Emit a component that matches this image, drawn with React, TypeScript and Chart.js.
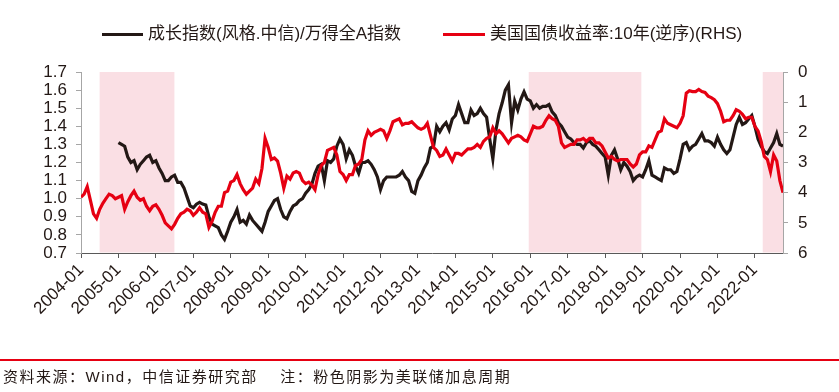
import React, { useEffect, useRef } from 'react';
import { Chart, registerables } from 'chart.js';

Chart.register(...registerables);

// ---------- data ----------
const FIRST_MONTH = '2004-01';
const LAST_MONTH = '2022-10';
const xTickYears = [2004, 2005, 2006, 2007, 2008, 2009, 2010, 2011, 2012, 2013, 2014, 2015, 2016, 2017, 2018, 2019, 2020, 2021, 2022];
const leftTicks = [0.7, 0.8, 0.9, 1.0, 1.1, 1.2, 1.3, 1.4, 1.5, 1.6, 1.7];
const rightTicks = [0, 1, 2, 3, 4, 5, 6];

const growthLabel = '成长指数(风格.中信)/万得全A指数';
const yieldLabel = '美国国债收益率:10年(逆序)(RHS)';
const sourceNote = '资料来源：Wind，中信证券研究部    注：粉色阴影为美联储加息周期';

// US 10Y treasury yield (%), monthly from 2004-01
const ust10y = [
  4.15, 4.05, 3.8, 4.25, 4.7, 4.85, 4.55, 4.35, 4.2, 4.05, 4.1, 4.2,
  4.15, 4.1, 4.55, 4.3, 4.1, 3.95, 4.15, 4.25, 4.2, 4.45, 4.6, 4.45,
  4.4, 4.55, 4.75, 5.0, 5.1, 5.2, 5.05, 4.85, 4.7, 4.65, 4.55, 4.6,
  4.75, 4.65, 4.5, 4.65, 4.7, 5.15, 4.95, 4.65, 4.45, 4.45, 4.0, 3.95,
  3.65, 3.6, 3.4, 3.7, 3.9, 4.05, 3.95, 3.85, 3.55, 3.7, 3.2, 2.2,
  2.5, 2.9, 2.85, 2.95, 3.35, 3.85, 3.45, 3.55, 3.35, 3.3, 3.35, 3.6,
  3.7, 3.65, 3.75, 3.9, 3.4, 3.1, 3.0, 2.6, 2.55, 2.5, 2.75, 3.3,
  3.4, 3.6, 3.4, 3.4, 3.1, 3.05, 2.9, 2.25, 1.95, 2.1, 2.0, 1.95,
  1.9, 1.95, 2.2, 1.95, 1.65, 1.6, 1.55, 1.75, 1.7, 1.7, 1.65, 1.75,
  1.85, 1.9, 1.85, 1.7, 2.1, 2.5, 2.6, 2.8, 2.75, 2.55, 2.75, 2.95,
  2.7, 2.7, 2.75, 2.65, 2.55, 2.55, 2.5, 2.4, 2.5, 2.3, 2.2, 2.15,
  1.85, 2.05, 1.95, 2.05, 2.2, 2.35, 2.2, 2.15, 2.1, 2.15, 2.25, 2.3,
  2.05, 1.8, 1.85, 1.85, 1.8, 1.6, 1.45, 1.55, 1.6, 1.8, 2.35, 2.5,
  2.45, 2.4, 2.4, 2.25, 2.25, 2.2, 2.3, 2.2, 2.2, 2.35, 2.35, 2.45,
  2.65, 2.85, 2.8, 2.9, 2.95, 2.9, 2.9, 2.9, 3.05, 3.15, 3.05, 2.75,
  2.65, 2.65, 2.45, 2.5, 2.25, 2.0, 1.95, 1.55, 1.7, 1.75, 1.8, 1.85,
  1.7, 1.45, 0.7, 0.62, 0.65, 0.65, 0.58, 0.65, 0.68, 0.8, 0.85, 0.92,
  1.05, 1.3, 1.65, 1.6, 1.6, 1.45, 1.25, 1.3, 1.4, 1.55, 1.5, 1.5,
  1.8, 1.95, 2.3, 2.8, 2.9, 3.3, 2.75, 2.95, 3.6, 4.0,
];

// Growth style index / Wind All A ratio, monthly from 2005-01
const GROWTH_FIRST_MONTH = '2005-01';
const growthRatio = [
  1.31, 1.30, 1.29, 1.23, 1.20, 1.21, 1.16, 1.19, 1.21, 1.23, 1.24, 1.20,
  1.21, 1.17, 1.14, 1.10, 1.10, 1.12, 1.13, 1.09, 1.09, 1.06, 1.01, 0.96,
  0.95, 0.97, 0.98, 0.97, 0.965, 0.90, 0.86, 0.85, 0.84, 0.80, 0.775, 0.82,
  0.87, 0.90, 0.94, 0.87, 0.88, 0.86, 0.91, 0.88, 0.86, 0.84, 0.82, 0.87,
  0.93, 0.96, 0.99, 1.00, 0.94, 0.90, 0.89, 0.93, 0.96, 0.97, 0.99, 1.00,
  1.03, 1.05, 1.08, 1.14, 1.18, 1.19, 1.10, 1.21, 1.20, 1.22, 1.29, 1.33,
  1.30, 1.22, 1.27, 1.24, 1.18, 1.14, 1.20, 1.20, 1.21, 1.19, 1.16, 1.12,
  1.05, 1.10, 1.12, 1.12, 1.12, 1.12, 1.13, 1.15, 1.12, 1.10, 1.04, 1.03,
  1.10, 1.13, 1.17, 1.20, 1.28, 1.29, 1.40, 1.37, 1.40, 1.42, 1.38, 1.44,
  1.46, 1.52, 1.47, 1.42, 1.42, 1.49, 1.46, 1.47, 1.50, 1.47, 1.45, 1.33,
  1.22, 1.38, 1.47, 1.53, 1.60, 1.63, 1.42, 1.54, 1.49, 1.55, 1.59, 1.55,
  1.54, 1.50, 1.52, 1.50, 1.51, 1.51, 1.52, 1.48, 1.46, 1.42, 1.40, 1.37,
  1.34, 1.33, 1.31, 1.30, 1.30, 1.28, 1.31, 1.32, 1.30, 1.29, 1.27, 1.25,
  1.23, 1.13, 1.24, 1.27, 1.22, 1.16, 1.20, 1.18, 1.15, 1.10, 1.12, 1.13,
  1.12, 1.16, 1.21, 1.13, 1.12, 1.11, 1.10, 1.17, 1.16, 1.16, 1.14, 1.15,
  1.22, 1.30, 1.31, 1.27, 1.29, 1.30, 1.33, 1.36, 1.32, 1.32, 1.31, 1.29,
  1.34, 1.30, 1.27, 1.25, 1.27, 1.34, 1.41, 1.45, 1.41, 1.42, 1.44, 1.46,
  1.40, 1.33, 1.29, 1.26, 1.25, 1.28, 1.31, 1.36, 1.30, 1.29,
];

// Fed hiking cycles (pink shading)
const hikeStarts = ['2004-06-30', '2015-12-16', '2022-03-16'];
const hikeEnds = ['2006-06-29', '2018-12-19', '2022-10-01'];

// ---------- styles ----------
const BLACK = '#231815';
const RED = '#E60012';
const PINK = '#FADFE4';
const FONT = '"Liberation Sans", Arial, "Noto Sans CJK SC", sans-serif';

function monthIndex(s: string): number {
  const [y, m, d] = s.split('-').map(Number);
  const [y0, m0] = FIRST_MONTH.split('-').map(Number);
  const base = (y - y0) * 12 + (m - m0);
  return d ? base + (d - 1) / 30 : base;
}

const shadePlugin = {
  id: 'hikeShade',
  beforeDatasetsDraw(chart: any) {
    const { ctx, chartArea, scales } = chart;
    const x = scales.x;
    ctx.save();
    ctx.fillStyle = PINK;
    hikeStarts.forEach((s, i) => {
      const x0 = x.getPixelForValue(monthIndex(s));
      const x1 = Math.min(x.getPixelForValue(monthIndex(hikeEnds[i])), chartArea.right);
      ctx.fillRect(x0, chartArea.top, x1 - x0, chartArea.bottom - chartArea.top - 0.5);
    });
    ctx.restore();
  },
};

export default function App() {
  const ref = useRef<HTMLCanvasElement>(null);

  useEffect(() => {
    if (!ref.current) return;
    const growthOffset = monthIndex(GROWTH_FIRST_MONTH);
    const tickFont = { family: FONT, size: 17 };
    const chart = new Chart(ref.current, {
      type: 'line',
      data: {
        datasets: [
          {
            label: yieldLabel,
            data: ust10y.map((v, i) => ({ x: i, y: v })),
            yAxisID: 'y1',
            borderColor: RED,
            borderWidth: 3.2,
            pointRadius: 0,
            tension: 0,
            order: 0,
          },
          {
            label: growthLabel,
            data: growthRatio.map((v, i) => ({ x: i + growthOffset, y: v })),
            yAxisID: 'y',
            borderColor: BLACK,
            borderWidth: 3.2,
            pointRadius: 0,
            tension: 0,
            order: 1,
          },
        ],
      },
      options: {
        responsive: false,
        animation: false,
        devicePixelRatio: 1,
        layout: { padding: { top: 72, left: 0, right: 0, bottom: 0 } },
        plugins: { legend: { display: false }, tooltip: { enabled: false } },
        scales: {
          x: {
            type: 'linear',
            min: 0,
            max: monthIndex(LAST_MONTH),
            afterFit: (s: any) => { s.height = 139; },
            ticks: {
              stepSize: 12,
              includeBounds: false,
              autoSkip: false,
              minRotation: 45,
              maxRotation: 45,
              padding: 2,
              color: BLACK,
              font: tickFont,
              callback: (v: any) => {
                const yr = xTickYears[Math.round(Number(v) / 12)];
                return yr !== undefined ? `${yr}-01` : null;
              },
            },
            grid: { drawOnChartArea: false, tickLength: 5, color: '#595959' },
            border: { color: '#595959', width: 1 },
          },
          y: {
            position: 'left',
            min: leftTicks[0],
            max: leftTicks[leftTicks.length - 1],
            afterFit: (s: any) => { s.width = 81; },
            afterBuildTicks: (s: any) => { s.ticks = leftTicks.map((v) => ({ value: v })); },
            ticks: {
              autoSkip: false,
              padding: 9,
              color: BLACK,
              font: tickFont,
              callback: (v: any) => Number(v).toFixed(1),
            },
            grid: { drawOnChartArea: false, tickLength: 5, color: '#A6A6A6' },
            border: { color: '#A6A6A6', width: 1 },
          },
          y1: {
            position: 'right',
            reverse: true,
            min: rightTicks[0],
            max: rightTicks[rightTicks.length - 1],
            afterFit: (s: any) => { s.width = 56; },
            afterBuildTicks: (s: any) => { s.ticks = rightTicks.map((v) => ({ value: v })); },
            ticks: {
              autoSkip: false,
              padding: 10,
              color: BLACK,
              font: tickFont,
              callback: (v: any) => String(v),
            },
            grid: { drawOnChartArea: false, tickLength: 5, color: '#A6A6A6' },
            border: { color: '#A6A6A6', width: 1 },
          },
        },
      },
      plugins: [shadePlugin],
    } as any);
    return () => chart.destroy();
  }, []);

  const legendText: React.CSSProperties = {
    position: 'absolute',
    top: 24,
    height: 20,
    lineHeight: '20px',
    fontSize: 17,
    fontFamily: FONT,
    color: BLACK,
    whiteSpace: 'nowrap',
  };

  return (
    <div style={{ position: 'absolute', left: 0, top: 0, width: 839, height: 392, background: '#fff', overflow: 'hidden' }}>
      <canvas ref={ref} width={839} height={392} style={{ position: 'absolute', left: 0, top: 0, width: 839, height: 392 }} />
      <div style={{ position: 'absolute', left: 102, top: 32.5, width: 41, height: 3, background: BLACK }} />
      <div style={{ ...legendText, left: 148 }}>{growthLabel}</div>
      <div style={{ position: 'absolute', left: 443, top: 32.5, width: 42, height: 3, background: RED }} />
      <div style={{ ...legendText, left: 490 }}>{yieldLabel}</div>
      <div style={{ position: 'absolute', left: 0, top: 359, width: 839, height: 1.5, background: RED }} />
      <div
        style={{
          position: 'absolute',
          left: 3,
          top: 368,
          height: 18,
          lineHeight: '18px',
          fontSize: 15,
          letterSpacing: 1.5,
          fontFamily: FONT,
          color: BLACK,
          whiteSpace: 'pre',
        }}
      >
        {sourceNote}
      </div>
    </div>
  );
}
